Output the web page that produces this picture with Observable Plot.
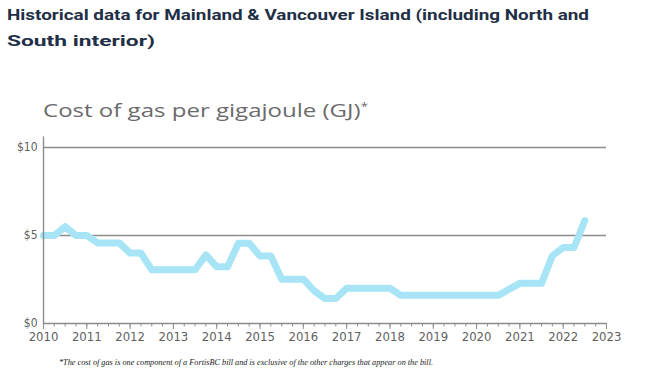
<!DOCTYPE html>
<html>
<head>
<meta charset="utf-8">
<script src="https://cdn.jsdelivr.net/npm/d3@7"></script>
<script src="https://cdn.jsdelivr.net/npm/@observablehq/plot@0.6"></script>
<style>
  html, body { margin: 0; padding: 0; background: #fff; }
  body { position: relative; width: 649px; height: 376px; overflow: hidden; }
  .fit { position: absolute; white-space: nowrap; transform-origin: 0 0; line-height: 1; }
  .title { font-family: Roboto, "Noto Sans", sans-serif; font-weight: 700; font-size: 15.5px; color: #1f2f47; left: 6.5px; }
  .sub { font-family: "Open Sans", "Noto Sans", sans-serif; font-size: 18px; color: #6b6b6b; left: 43px; top: 100.7px; }
  .sub sup { font-size: 10px; vertical-align: 0; position: relative; top: -7px; }
  .note { font-family: "Liberation Serif", "DejaVu Serif", serif; font-style: italic; font-size: 7.6px; color: #222; left: 59px; top: 359.3px; }
  #chart { position: absolute; left: 0; top: 125px; }
</style>
</head>
<body>
<div class="fit title" style="top:7.6px" data-w="582">Historical data for Mainland &amp; Vancouver Island (including North and</div>
<div class="fit title" style="top:33.6px" data-w="148">South interior)</div>
<div class="fit sub" data-w="325">Cost of gas per gigajoule (GJ)<sup>*</sup></div>
<div id="chart"></div>
<div class="fit note" data-w="374">*The cost of gas is one component of a FortisBC bill and is exclusive of the other charges that appear on the bill.</div>
<script>
// Quarterly observations (decimal year)
const quarters = [
  2010, 2010.25, 2010.5, 2010.75,
  2011, 2011.25, 2011.5, 2011.75,
  2012, 2012.25, 2012.5, 2012.75,
  2013, 2013.25, 2013.5, 2013.75,
  2014, 2014.25, 2014.5, 2014.75,
  2015, 2015.25, 2015.5, 2015.75,
  2016, 2016.25, 2016.5, 2016.75,
  2017, 2017.25, 2017.5, 2017.75,
  2018, 2018.25, 2018.5, 2018.75,
  2019, 2019.25, 2019.5, 2019.75,
  2020, 2020.25, 2020.5, 2020.75,
  2021, 2021.25, 2021.5, 2021.75,
  2022, 2022.25, 2022.5
];
// Cost of gas ($ per GJ)
const cost = [
  5.0, 5.0, 5.5, 5.0,
  5.0, 4.58, 4.58, 4.58,
  4.0, 4.0, 3.05, 3.05,
  3.05, 3.05, 3.05, 3.9,
  3.22, 3.22, 4.56, 4.56,
  3.83, 3.83, 2.52, 2.52,
  2.52, 1.85, 1.42, 1.42,
  2.0, 2.0, 2.0, 2.0,
  2.0, 1.6, 1.6, 1.6,
  1.6, 1.6, 1.6, 1.6,
  1.6, 1.6, 1.6, 1.95,
  2.28, 2.28, 2.28, 3.85,
  4.32, 4.32, 5.85
];
const yearTicks = [2010, 2011, 2012, 2013, 2014, 2015, 2016, 2017, 2018, 2019, 2020, 2021, 2022, 2023];
const yTicks = [0, 5, 10];
const yTickLabels = ["$0", "$5", "$10"];

const data = quarters.map((q, i) => ({year: q, cost: cost[i]}));
const minorTicks = d3.range(2010, 2023.001, 0.25);

const tickFont = '"Liberation Sans Narrow", "DejaVu Sans Condensed", "Roboto", sans-serif';

const chart = Plot.plot({
  width: 649,
  height: 230,
  marginLeft: 43,
  marginRight: 43,
  marginTop: 22,
  marginBottom: 32,
  style: {fontFamily: tickFont, fontSize: "13px", background: "transparent", color: "#5f5f5f", fontStretch: "condensed"},
  x: {domain: [2010, 2023], label: null},
  y: {domain: [0, 10], label: null},
  marks: [
    Plot.ruleY([5, 10], {stroke: "#8d8d8d", strokeWidth: 1.4}),
    Plot.line(data, {x: "year", y: "cost", stroke: "#a7e5f6", strokeWidth: 7, strokeLinejoin: "round", strokeLinecap: "round"}),
    Plot.ruleY([0], {stroke: "#8d8d8d", strokeWidth: 1.4}),
    Plot.ruleX([2010], {y1: -0.1, y2: 10.6, stroke: "#8d8d8d", strokeWidth: 1.4}),
    Plot.axisX({ticks: minorTicks, tickSize: 3.5, tickFormat: () => "", stroke: "#8d8d8d", label: null}),
    Plot.axisX({ticks: yearTicks, tickSize: 6, tickPadding: 2, tickFormat: d => String(d), stroke: "#8d8d8d", fill: "#5f5f5f", label: null}),
    Plot.axisY({ticks: yTicks, tickSize: 0, tickPadding: 6, tickFormat: d => yTickLabels[yTicks.indexOf(d)], fill: "#5f5f5f", fontSize: 12, label: null})
  ]
});
document.getElementById("chart").appendChild(chart);

// fit text blocks to the measured widths of the reference
document.querySelectorAll(".fit").forEach(el => {
  const w = el.getBoundingClientRect().width;
  const target = +el.dataset.w;
  if (w > 0) el.style.transform = `scaleX(${target / w})`;
});
</script>
</body>
</html>
